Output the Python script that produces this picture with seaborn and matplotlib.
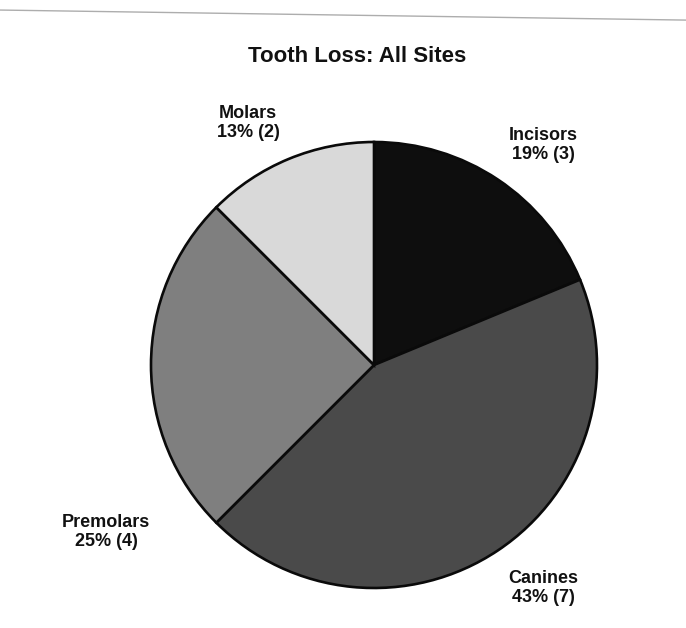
import numpy as np
import pandas as pd
import matplotlib
matplotlib.use('Agg')
import matplotlib.pyplot as plt
import seaborn as sns
from matplotlib.lines import Line2D

sns.set_theme(style='white')
plt.rcParams['font.family'] = ['Liberation Sans', 'DejaVu Sans']

# data
teeth = ['Incisors', 'Canines', 'Premolars', 'Molars']
counts = [3, 7, 4, 2]
pct_labels = ['19%', '43%', '25%', '13%']
colors = ['#0e0e0e', '#4a4a4a', '#7f7f7f', '#d9d9d9']

df = pd.DataFrame({'tooth': teeth, 'count': counts, 'pct': pct_labels})

W, H = 686, 628
fig = plt.figure(figsize=(W / 100, H / 100), dpi=100)
fig.patch.set_facecolor('white')

# faint scanner line at the top
fig.add_artist(Line2D([0.0, 1.0], [0.984, 0.968], color='#8a8a8a', lw=1.0, alpha=0.7))

# pie centre ~ (374, 365) px, radius ~ 223 px
cx, cy, r = 374, 365, 223
ax = fig.add_axes([(cx - r) / W, 1 - (cy + r) / H, 2 * r / W, 2 * r / H])
ax.pie(df['count'], colors=colors, startangle=90, counterclock=False,
       wedgeprops=dict(edgecolor='#0a0a0a', linewidth=1.9))
ax.set_xlim(-1.0, 1.0)
ax.set_ylim(-1.0, 1.0)
ax.axis('off')

# label centres in pixels
spots = {'Incisors': (543, 145), 'Canines': (543, 588),
         'Premolars': (106, 532), 'Molars': (248, 123)}
for _, row in df.iterrows():
    px, py = spots[row['tooth']]
    fig.text(px / W, 1 - py / H, f"{row['tooth']}\n{row['pct']} ({row['count']})",
             ha='center', va='center', fontsize=13, fontweight='bold',
             color='#111111', linespacing=1.2)

fig.text(357 / W, 1 - 57 / H, 'Tooth Loss: All Sites', ha='center', va='center',
         fontsize=16, fontweight='bold', color='#111111')

fig.savefig('out.png', dpi=100, facecolor='white')
